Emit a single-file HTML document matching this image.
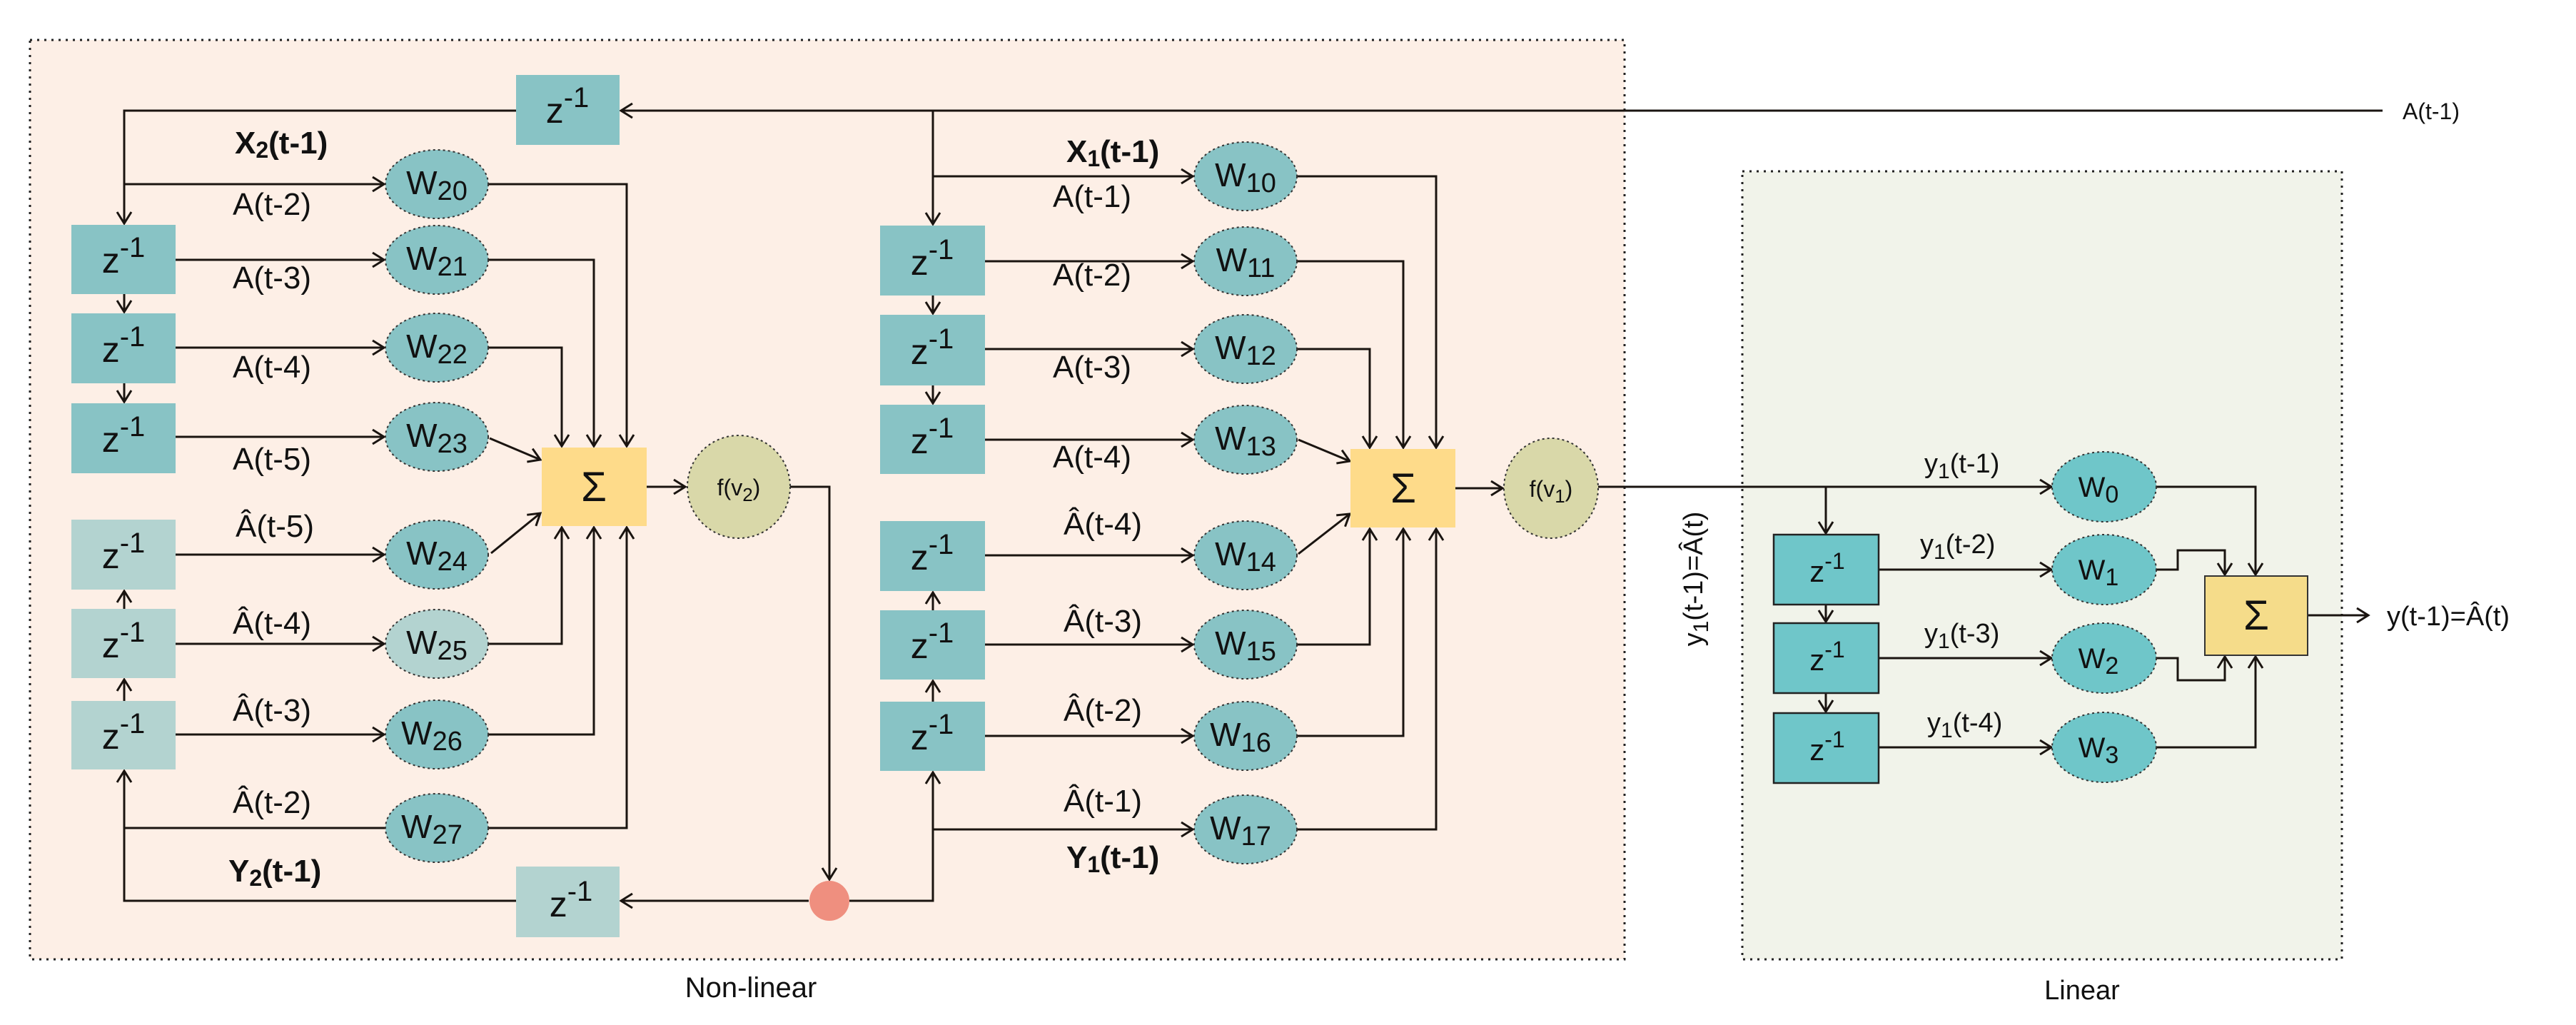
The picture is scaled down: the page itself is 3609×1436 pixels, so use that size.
<!DOCTYPE html>
<html><head><meta charset="utf-8"><style>
html,body{margin:0;padding:0;background:#fff;}
svg{display:block;}
text{font-family:"Liberation Sans",sans-serif;fill:#111;}
</style></head><body>
<svg width="3609" height="1436" viewBox="0 0 3609 1436" xmlns="http://www.w3.org/2000/svg">
<defs>
<marker id="a" markerUnits="userSpaceOnUse" markerWidth="24" markerHeight="24" refX="20" refY="12" orient="auto">
<path d="M4,2 L20,12 L4,22" fill="none" stroke="#1a1410" stroke-width="3"/>
</marker>
</defs>
<!-- containers -->
<rect x="42" y="56" width="2234" height="1288" fill="#fdefe6" stroke="#222" stroke-width="3" stroke-dasharray="3,7"/>
<rect x="2441" y="240" width="840" height="1104" fill="#f1f3ea" stroke="#222" stroke-width="3" stroke-dasharray="3,7"/>
<text x="1052" y="1397" font-size="40" text-anchor="middle">Non-linear</text>
<text x="2917" y="1400" font-size="38" text-anchor="middle">Linear</text>

<g stroke="#1a1410" stroke-width="3" fill="none">
<!-- top line -->
<line x1="3338" y1="155" x2="870" y2="155" marker-end="url(#a)"/>
<polyline points="723,155 174,155 174,313" marker-end="url(#a)"/>
<line x1="174" y1="258" x2="538" y2="258" marker-end="url(#a)"/>
<line x1="174" y1="412" x2="174" y2="437" marker-end="url(#a)"/>
<line x1="174" y1="537" x2="174" y2="563" marker-end="url(#a)"/>
<line x1="174" y1="853" x2="174" y2="828" marker-end="url(#a)"/>
<line x1="174" y1="982" x2="174" y2="952" marker-end="url(#a)"/>
<polyline points="723,1262 174,1262 174,1080" marker-end="url(#a)"/>
<line x1="1133" y1="1262" x2="870" y2="1262" marker-end="url(#a)"/>
<line x1="174" y1="1160" x2="540" y2="1160"/>
<line x1="246" y1="364" x2="538" y2="364" marker-end="url(#a)"/>
<line x1="246" y1="487" x2="538" y2="487" marker-end="url(#a)"/>
<line x1="246" y1="612" x2="538" y2="612" marker-end="url(#a)"/>
<line x1="246" y1="777" x2="538" y2="777" marker-end="url(#a)"/>
<line x1="246" y1="902" x2="538" y2="902" marker-end="url(#a)"/>
<line x1="246" y1="1029" x2="538" y2="1029" marker-end="url(#a)"/>
<!-- W to sum left -->
<polyline points="684,258 878,258 878,625" marker-end="url(#a)"/>
<polyline points="684,364 832,364 832,625" marker-end="url(#a)"/>
<polyline points="684,487 787,487 787,625" marker-end="url(#a)"/>
<line x1="686" y1="614" x2="757" y2="644" marker-end="url(#a)"/>
<line x1="688" y1="775" x2="757" y2="719" marker-end="url(#a)"/>
<polyline points="684,902 787,902 787,739" marker-end="url(#a)"/>
<polyline points="684,1029 832,1029 832,739" marker-end="url(#a)"/>
<polyline points="684,1160 878,1160 878,739" marker-end="url(#a)"/>
<line x1="906" y1="682" x2="960" y2="682" marker-end="url(#a)"/>
<polyline points="1107,682 1162,682 1162,1232" marker-end="url(#a)"/>
<!-- middle -->
<line x1="1307" y1="155" x2="1307" y2="314" marker-end="url(#a)"/>
<line x1="1307" y1="247" x2="1671" y2="247" marker-end="url(#a)"/>
<line x1="1307" y1="414" x2="1307" y2="439" marker-end="url(#a)"/>
<line x1="1307" y1="540" x2="1307" y2="565" marker-end="url(#a)"/>
<line x1="1307" y1="855" x2="1307" y2="830" marker-end="url(#a)"/>
<line x1="1307" y1="983" x2="1307" y2="954" marker-end="url(#a)"/>
<polyline points="1190,1262 1307,1262 1307,1082" marker-end="url(#a)"/>
<line x1="1307" y1="1162" x2="1671" y2="1162" marker-end="url(#a)"/>
<line x1="1380" y1="366" x2="1671" y2="366" marker-end="url(#a)"/>
<line x1="1380" y1="489" x2="1671" y2="489" marker-end="url(#a)"/>
<line x1="1380" y1="616" x2="1671" y2="616" marker-end="url(#a)"/>
<line x1="1380" y1="778" x2="1671" y2="778" marker-end="url(#a)"/>
<line x1="1380" y1="903" x2="1671" y2="903" marker-end="url(#a)"/>
<line x1="1380" y1="1031" x2="1671" y2="1031" marker-end="url(#a)"/>
<polyline points="1817,247 2012,247 2012,627" marker-end="url(#a)"/>
<polyline points="1817,366 1966,366 1966,627" marker-end="url(#a)"/>
<polyline points="1817,489 1919,489 1919,627" marker-end="url(#a)"/>
<line x1="1819" y1="616" x2="1891" y2="646" marker-end="url(#a)"/>
<line x1="1819" y1="776" x2="1891" y2="720" marker-end="url(#a)"/>
<polyline points="1817,903 1919,903 1919,741" marker-end="url(#a)"/>
<polyline points="1817,1031 1966,1031 1966,741" marker-end="url(#a)"/>
<polyline points="1817,1162 2012,1162 2012,741" marker-end="url(#a)"/>
<line x1="2039" y1="684" x2="2105" y2="684" marker-end="url(#a)"/>
<!-- linear -->
<line x1="2239" y1="682" x2="2874" y2="682" marker-end="url(#a)"/>
<line x1="2558" y1="682" x2="2558" y2="747" marker-end="url(#a)"/>
<line x1="2558" y1="847" x2="2558" y2="871" marker-end="url(#a)"/>
<line x1="2558" y1="971" x2="2558" y2="997" marker-end="url(#a)"/>
<line x1="2632" y1="798" x2="2874" y2="798" marker-end="url(#a)"/>
<line x1="2632" y1="922" x2="2874" y2="922" marker-end="url(#a)"/>
<line x1="2632" y1="1047" x2="2874" y2="1047" marker-end="url(#a)"/>
<polyline points="3021,682 3160,682 3160,805" marker-end="url(#a)"/>
<polyline points="3021,798 3051,798 3051,771 3117,771 3117,805" marker-end="url(#a)"/>
<polyline points="3021,922 3051,922 3051,953 3117,953 3117,920" marker-end="url(#a)"/>
<polyline points="3021,1047 3160,1047 3160,920" marker-end="url(#a)"/>
<line x1="3233" y1="862" x2="3318" y2="862" marker-end="url(#a)"/>
</g>

<!-- z boxes -->
<g fill="#88c3c5">
<rect x="723" y="105" width="145" height="98"/>
<rect x="100" y="315" width="146" height="97"/>
<rect x="100" y="439" width="146" height="98"/>
<rect x="100" y="565" width="146" height="98"/>
<rect x="1233" y="316" width="147" height="98"/>
<rect x="1233" y="441" width="147" height="99"/>
<rect x="1233" y="567" width="147" height="97"/>
<rect x="1233" y="730" width="147" height="98"/>
<rect x="1233" y="855" width="147" height="97"/>
<rect x="1233" y="983" width="147" height="97"/>
</g>
<g fill="#b3d3d0">
<rect x="100" y="728" width="146" height="98"/>
<rect x="100" y="853" width="146" height="97"/>
<rect x="100" y="982" width="146" height="96"/>
<rect x="723" y="1214" width="145" height="99"/>
</g>
<g fill="#6fc6c9" stroke="#222" stroke-width="2.5">
<rect x="2485" y="749" width="147" height="98"/>
<rect x="2485" y="873" width="147" height="98"/>
<rect x="2485" y="999" width="147" height="98"/>
</g>
<g font-size="50" text-anchor="middle">
<text x="795" y="172">z<tspan font-size="40" dy="-22">-1</tspan></text>
<text x="173" y="382">z<tspan font-size="40" dy="-22">-1</tspan></text>
<text x="173" y="507">z<tspan font-size="40" dy="-22">-1</tspan></text>
<text x="173" y="633">z<tspan font-size="40" dy="-22">-1</tspan></text>
<text x="173" y="796">z<tspan font-size="40" dy="-22">-1</tspan></text>
<text x="173" y="921">z<tspan font-size="40" dy="-22">-1</tspan></text>
<text x="173" y="1049">z<tspan font-size="40" dy="-22">-1</tspan></text>
<text x="800" y="1284">z<tspan font-size="40" dy="-22">-1</tspan></text>
<text x="1306" y="385">z<tspan font-size="40" dy="-22">-1</tspan></text>
<text x="1306" y="510">z<tspan font-size="40" dy="-22">-1</tspan></text>
<text x="1306" y="635">z<tspan font-size="40" dy="-22">-1</tspan></text>
<text x="1306" y="798">z<tspan font-size="40" dy="-22">-1</tspan></text>
<text x="1306" y="922">z<tspan font-size="40" dy="-22">-1</tspan></text>
<text x="1306" y="1050">z<tspan font-size="40" dy="-22">-1</tspan></text>
</g>
<g font-size="42" text-anchor="middle">
<text x="2560" y="815">z<tspan font-size="32" dy="-18">-1</tspan></text>
<text x="2560" y="939">z<tspan font-size="32" dy="-18">-1</tspan></text>
<text x="2560" y="1065">z<tspan font-size="32" dy="-18">-1</tspan></text>
</g>

<!-- W ellipses -->
<g fill="#88c3c5" stroke="#333" stroke-width="2" stroke-dasharray="3,4">
<ellipse cx="612" cy="258" rx="72" ry="48"/>
<ellipse cx="612" cy="364" rx="72" ry="48"/>
<ellipse cx="612" cy="487" rx="72" ry="48"/>
<ellipse cx="612" cy="612" rx="72" ry="48"/>
<ellipse cx="612" cy="777" rx="72" ry="48"/>
<ellipse cx="612" cy="902" rx="72" ry="48" fill="#b3d3d0"/>
<ellipse cx="612" cy="1029" rx="72" ry="48"/>
<ellipse cx="612" cy="1160" rx="72" ry="48"/>
<ellipse cx="1745" cy="247" rx="72" ry="48"/>
<ellipse cx="1745" cy="366" rx="72" ry="48"/>
<ellipse cx="1745" cy="489" rx="72" ry="48"/>
<ellipse cx="1745" cy="616" rx="72" ry="48"/>
<ellipse cx="1745" cy="778" rx="72" ry="48"/>
<ellipse cx="1745" cy="903" rx="72" ry="48"/>
<ellipse cx="1745" cy="1031" rx="72" ry="48"/>
<ellipse cx="1745" cy="1162" rx="72" ry="48"/>
<ellipse cx="2948" cy="682" rx="73" ry="49" fill="#6fc6c9"/>
<ellipse cx="2948" cy="798" rx="73" ry="49" fill="#6fc6c9"/>
<ellipse cx="2948" cy="922" rx="73" ry="49" fill="#6fc6c9"/>
<ellipse cx="2948" cy="1047" rx="73" ry="49" fill="#6fc6c9"/>
<ellipse cx="1035" cy="682" rx="72" ry="72" fill="#d9d8a9"/>
<ellipse cx="2173" cy="684" rx="66" ry="70" fill="#d9d8a9"/>
</g>
<ellipse cx="1162" cy="1262" rx="28" ry="28" fill="#ef8f7f"/>
<g font-size="46" text-anchor="middle">
<text x="612" y="272">W<tspan font-size="38" dy="8">20</tspan></text>
<text x="612" y="378">W<tspan font-size="38" dy="8">21</tspan></text>
<text x="612" y="501">W<tspan font-size="38" dy="8">22</tspan></text>
<text x="612" y="626">W<tspan font-size="38" dy="8">23</tspan></text>
<text x="612" y="791">W<tspan font-size="38" dy="8">24</tspan></text>
<text x="612" y="916">W<tspan font-size="38" dy="8">25</tspan></text>
<text x="605" y="1043">W<tspan font-size="38" dy="8">26</tspan></text>
<text x="605" y="1174">W<tspan font-size="38" dy="8">27</tspan></text>
<text x="1745" y="261">W<tspan font-size="38" dy="8">10</tspan></text>
<text x="1745" y="380">W<tspan font-size="38" dy="8">11</tspan></text>
<text x="1745" y="503">W<tspan font-size="38" dy="8">12</tspan></text>
<text x="1745" y="630">W<tspan font-size="38" dy="8">13</tspan></text>
<text x="1745" y="792">W<tspan font-size="38" dy="8">14</tspan></text>
<text x="1745" y="917">W<tspan font-size="38" dy="8">15</tspan></text>
<text x="1738" y="1045">W<tspan font-size="38" dy="8">16</tspan></text>
<text x="1738" y="1176">W<tspan font-size="38" dy="8">17</tspan></text>
</g>
<g font-size="40" text-anchor="middle">
<text x="2940" y="696">W<tspan font-size="34" dy="8">0</tspan></text>
<text x="2940" y="812">W<tspan font-size="34" dy="8">1</tspan></text>
<text x="2940" y="936">W<tspan font-size="34" dy="8">2</tspan></text>
<text x="2940" y="1061">W<tspan font-size="34" dy="8">3</tspan></text>
</g>
<g font-size="32" text-anchor="middle">
<text x="1035" y="694">f(v<tspan font-size="26" dy="8">2</tspan><tspan dy="-8">)</tspan></text>
<text x="2173" y="696">f(v<tspan font-size="26" dy="8">1</tspan><tspan dy="-8">)</tspan></text>
</g>

<!-- sums -->
<rect x="759" y="627" width="147" height="110" fill="#fedb8a"/>
<rect x="1892" y="629" width="147" height="110" fill="#fedb8a"/>
<rect x="3089" y="807" width="144" height="111" fill="#f5dc8a" stroke="#333" stroke-width="2"/>
<g font-size="58" text-anchor="middle">
<text x="832" y="702">Σ</text>
<text x="1966" y="704">Σ</text>
<text x="3161" y="882">Σ</text>
</g>

<!-- labels -->
<g font-size="44">
<text x="329" y="215" font-weight="bold">X<tspan font-size="32" dy="6">2</tspan><tspan dy="-6">(t-1)</tspan></text>
<text x="326" y="301">A(t-2)</text>
<text x="326" y="404">A(t-3)</text>
<text x="326" y="529">A(t-4)</text>
<text x="326" y="658">A(t-5)</text>
<text x="330" y="752">Â(t-5)</text>
<text x="326" y="888">Â(t-4)</text>
<text x="326" y="1010">Â(t-3)</text>
<text x="326" y="1139">Â(t-2)</text>
<text x="320" y="1235" font-weight="bold">Y<tspan font-size="32" dy="6">2</tspan><tspan dy="-6">(t-1)</tspan></text>
<text x="1494" y="227" font-weight="bold">X<tspan font-size="32" dy="6">1</tspan><tspan dy="-6">(t-1)</tspan></text>
<text x="1475" y="290">A(t-1)</text>
<text x="1475" y="400">A(t-2)</text>
<text x="1475" y="529">A(t-3)</text>
<text x="1475" y="655">A(t-4)</text>
<text x="1490" y="749">Â(t-4)</text>
<text x="1490" y="885">Â(t-3)</text>
<text x="1490" y="1010">Â(t-2)</text>
<text x="1490" y="1137">Â(t-1)</text>
<text x="1494" y="1216" font-weight="bold">Y<tspan font-size="32" dy="6">1</tspan><tspan dy="-6">(t-1)</tspan></text>
</g>
<g font-size="38">
<text x="2696" y="662">y<tspan font-size="30" dy="8">1</tspan><tspan dy="-8">(t-1)</tspan></text>
<text x="2690" y="775">y<tspan font-size="30" dy="8">1</tspan><tspan dy="-8">(t-2)</tspan></text>
<text x="2696" y="900">y<tspan font-size="30" dy="8">1</tspan><tspan dy="-8">(t-3)</tspan></text>
<text x="2700" y="1025">y<tspan font-size="30" dy="8">1</tspan><tspan dy="-8">(t-4)</tspan></text>
<text x="3344" y="876">y(t-1)=Â(t)</text>
<text x="2385" y="811" text-anchor="middle" transform="rotate(-90 2385 811)">y<tspan font-size="30" dy="8">1</tspan><tspan dy="-8">(t-1)=Â(t)</tspan></text>
</g>
<text x="3366" y="167" font-size="32">A(t-1)</text>
</svg>
</body></html>
